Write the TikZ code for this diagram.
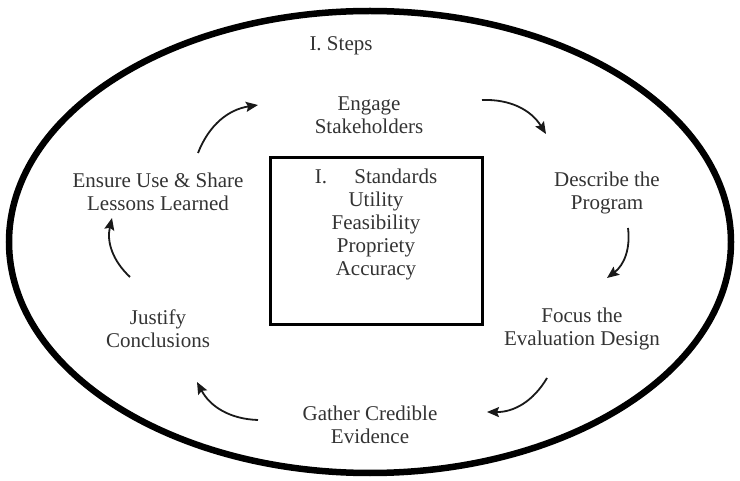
\documentclass[tikz,border=0pt]{standalone}
\usepackage{fontspec}
\setmainfont{Liberation Serif}
\usetikzlibrary{arrows.meta}
\begin{document}
\begin{tikzpicture}[x=1pt,y=-1pt,
  lbl/.style={font=\fontsize{21}{23}\selectfont, text=black!80, align=center, inner sep=0pt},
  cyc/.style={line width=1.8pt, black!90, -{Stealth[length=12pt,width=10pt,inset=2pt]}, bend left=30}]
\useasboundingbox (0,0) rectangle (740,481);
\draw[line width=6.5pt] (370,242) ellipse [x radius=361, y radius=231];
\node[draw, line width=3pt, minimum width=212pt, minimum height=167pt] (box) at (376.5,241) {};
\node[lbl] (std) at (376,224) {I.\hspace{1.3em}Standards\\Utility\\Feasibility\\Propriety\\Accuracy};
\node[lbl] (steps) at (341,46) {I. Steps};
\node[lbl] (engage) at (369,115) {Engage\\Stakeholders};
\node[lbl] (describe) at (607,193) {Describe the\\Program};
\node[lbl] (focus) at (582,329) {Focus the\\Evaluation Design};
\node[lbl] (gather) at (370,425) {Gather Credible\\Evidence};
\node[lbl] (justify) at (158,329) {Justify\\Conclusions};
\node[lbl] (ensure) at (158,192) {Ensure Use \& Share\\Lessons Learned};
\coordinate (a1s) at (198,153); \coordinate (a1e) at (258,105);
\coordinate (a2s) at (482,100); \coordinate (a2e) at (546,134);
\coordinate (a3s) at (628,228); \coordinate (a3e) at (607,278);
\coordinate (a4s) at (547,378); \coordinate (a4e) at (487,412);
\coordinate (a5s) at (258,420); \coordinate (a5e) at (197,382);
\coordinate (a6s) at (130,277); \coordinate (a6e) at (112,218);
\draw[cyc] (a1s) to (a1e);
\draw[cyc] (a2s) to (a2e);
\draw[cyc] (a3s) to (a3e);
\draw[cyc] (a4s) to (a4e);
\draw[cyc] (a5s) to (a5e);
\draw[cyc] (a6s) to (a6e);
\end{tikzpicture}
\end{document}
